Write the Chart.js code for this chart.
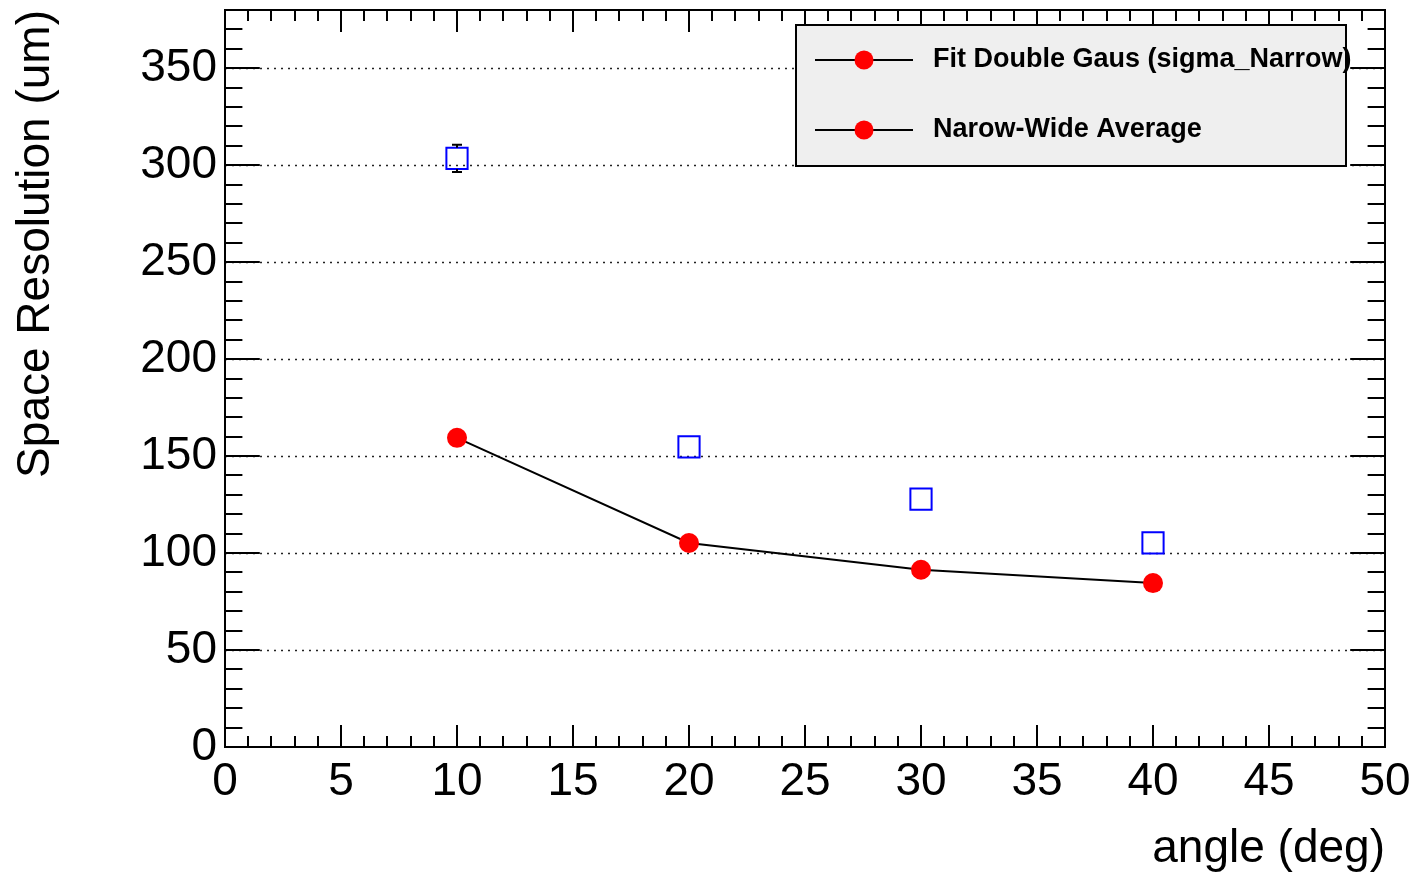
<!DOCTYPE html>
<html>
<head>
<meta charset="utf-8">
<title>Space Resolution vs angle</title>
<script src="https://cdn.jsdelivr.net/npm/chart.js@4/dist/chart.umd.min.js"></script>
<style>
  html, body { margin: 0; padding: 0; background: #ffffff; }
  #wrap { width: 1414px; height: 875px; }
</style>
</head>
<body>
<div id="wrap"><canvas id="c" width="1414" height="875"></canvas></div>
<script>
// Incidence angles (deg)
const angles = [10, 20, 30, 40];
// Resolution from double-Gaussian fit, narrow sigma (um)
const sigmaNarrow = [159.4, 105.2, 91.4, 84.5];
// Narrow/wide weighted average (um) and its uncertainty
const narrowWideAvg = [303.5, 154.8, 127.8, 105.3];
const narrowWideErr = [7, 1.5, 1.5, 1.5];
// Legend entries
const legendLabels = ['Fit Double Gaus (sigma_Narrow)', 'Narow-Wide Average'];
// Axis ranges and tick steps
const xRange = [0, 50];
const yRange = [0, 380];
const xMajorStep = 5, xMinorStep = 1;
const yMajorStep = 50, yMinorStep = 10;

const FONT = "'Liberation Sans', Arial, Helvetica, sans-serif";
const SQUARE_RADIUS = 15;

// Frame, inward tick marks on all four sides and dotted horizontal grid
const frameAndTicks = {
  id: 'frameAndTicks',
  beforeDatasetsDraw(chart) {
    const { ctx, chartArea: a, scales: { y } } = chart;
    ctx.save();
    ctx.strokeStyle = '#222';
    ctx.lineWidth = 1.6;
    ctx.setLineDash([2, 5]);
    for (let v = yMajorStep; v <= yRange[1]; v += yMajorStep) {
      const py = Math.round(y.getPixelForValue(v)) + 0.5;
      ctx.beginPath();
      ctx.moveTo(a.left, py);
      ctx.lineTo(a.right, py);
      ctx.stroke();
    }
    ctx.restore();
  },
  afterDatasetsDraw(chart) {
    const { ctx, chartArea: a, scales: { x, y } } = chart;
    const h = a.bottom - a.top, w = a.right - a.left;
    const xMaj = 0.03 * h, yMaj = 0.03 * w;
    ctx.save();
    ctx.strokeStyle = '#000';
    ctx.lineWidth = 2;
    ctx.beginPath();
    for (let v = xRange[0]; v <= xRange[1] + 1e-9; v += xMinorStep) {
      const px = Math.round(x.getPixelForValue(v));
      const len = (Math.round(v) % xMajorStep === 0) ? xMaj : xMaj / 2;
      ctx.moveTo(px, a.bottom); ctx.lineTo(px, a.bottom - len);
      ctx.moveTo(px, a.top); ctx.lineTo(px, a.top + len);
    }
    for (let v = yRange[0]; v <= yRange[1] + 1e-9; v += yMinorStep) {
      const py = Math.round(y.getPixelForValue(v));
      const len = (Math.round(v) % yMajorStep === 0) ? yMaj : yMaj / 2;
      ctx.moveTo(a.left, py); ctx.lineTo(a.left + len, py);
      ctx.moveTo(a.right, py); ctx.lineTo(a.right - len, py);
    }
    ctx.stroke();
    ctx.strokeRect(a.left, a.top, w, h);
    ctx.restore();
  }
};

// Vertical error bars with end caps, drawn only where they reach outside the marker
const errorBars = {
  id: 'errorBars',
  afterDatasetsDraw(chart) {
    const { ctx, scales: { x, y } } = chart;
    const half = SQUARE_RADIUS * Math.SQRT1_2;
    ctx.save();
    ctx.strokeStyle = '#000';
    ctx.lineWidth = 2;
    angles.forEach((ang, i) => {
      const px = x.getPixelForValue(ang);
      const pc = y.getPixelForValue(narrowWideAvg[i]);
      const top = y.getPixelForValue(narrowWideAvg[i] + narrowWideErr[i]);
      const bot = y.getPixelForValue(narrowWideAvg[i] - narrowWideErr[i]);
      if (pc - top < half) return;
      ctx.beginPath();
      ctx.moveTo(px, pc - half); ctx.lineTo(px, top);
      ctx.moveTo(px, pc + half); ctx.lineTo(px, bot);
      ctx.moveTo(px - 5, top); ctx.lineTo(px + 5, top);
      ctx.moveTo(px - 5, bot); ctx.lineTo(px + 5, bot);
      ctx.stroke();
    });
    ctx.restore();
  }
};

// Boxed legend: line with round marker followed by bold label
const boxLegend = {
  id: 'boxLegend',
  afterDraw(chart) {
    const { ctx, chartArea: a } = chart;
    const bx = a.left + 571, by = a.top + 15, bw = 550, bh = 141;
    ctx.save();
    ctx.fillStyle = '#efefef';
    ctx.fillRect(bx, by, bw, bh);
    ctx.strokeStyle = '#000';
    ctx.lineWidth = 2;
    ctx.strokeRect(bx, by, bw, bh);
    legendLabels.forEach((txt, i) => {
      const cy = by + 35 + i * 70;
      ctx.strokeStyle = '#000';
      ctx.lineWidth = 2;
      ctx.beginPath();
      ctx.moveTo(bx + 19, cy); ctx.lineTo(bx + 117, cy);
      ctx.stroke();
      ctx.fillStyle = '#ff0000';
      ctx.beginPath();
      ctx.arc(bx + 68, cy, 9.5, 0, Math.PI * 2);
      ctx.fill();
      ctx.fillStyle = '#000';
      ctx.font = 'bold 27px ' + FONT;
      ctx.textBaseline = 'middle';
      ctx.textAlign = 'left';
      ctx.fillText(txt, bx + 137, cy);
    });
    ctx.restore();
  }
};

new Chart(document.getElementById('c'), {
  type: 'scatter',
  data: {
    datasets: [
      {
        label: legendLabels[0],
        data: angles.map((a, i) => ({ x: a, y: sigmaNarrow[i] })),
        showLine: true,
        borderColor: '#000',
        borderWidth: 2,
        pointStyle: 'circle',
        pointRadius: 10,
        pointBackgroundColor: '#ff0000',
        pointBorderColor: '#ff0000',
        pointBorderWidth: 0,
        order: 1
      },
      {
        label: legendLabels[1],
        data: angles.map((a, i) => ({ x: a, y: narrowWideAvg[i] })),
        showLine: false,
        pointStyle: 'rect',
        pointRadius: SQUARE_RADIUS,
        pointBackgroundColor: 'rgba(0,0,0,0)',
        pointBorderColor: '#0000ff',
        pointBorderWidth: 2,
        order: 2
      }
    ]
  },
  options: {
    responsive: false,
    animation: false,
    devicePixelRatio: 1,
    layout: { autoPadding: false, padding: { top: 10, right: 29, left: 0, bottom: 0 } },
    plugins: {
      legend: { display: false },
      tooltip: { enabled: false }
    },
    scales: {
      x: {
        type: 'linear',
        min: xRange[0], max: xRange[1],
        grid: { display: false, drawTicks: false },
        border: { display: false },
        ticks: {
          stepSize: xMajorStep,
          includeBounds: false,
          color: '#000',
          padding: 8,
          maxRotation: 0,
          autoSkip: false,
          font: { family: FONT, size: 46 }
        },
        title: {
          display: true,
          text: 'angle (deg)',
          align: 'end',
          color: '#000',
          padding: { top: 0, bottom: 3 },
          font: { family: FONT, size: 46, lineHeight: 1 }
        },
        afterFit(scale) {
          scale.height = 128;
          scale.paddingLeft = 0; scale.paddingRight = 0;
        }
      },
      y: {
        type: 'linear',
        min: yRange[0], max: yRange[1],
        grid: { display: false, drawTicks: false },
        border: { display: false },
        ticks: {
          stepSize: yMajorStep,
          includeBounds: false,
          color: '#000',
          padding: 8,
          autoSkip: false,
          font: { family: FONT, size: 46 }
        },
        title: {
          display: true,
          text: 'Space Resolution (um)',
          align: 'end',
          color: '#000',
          padding: { top: 9, bottom: 0 },
          font: { family: FONT, size: 46 }
        },
        afterFit(scale) {
          scale.width = 225;
          scale.paddingTop = 0; scale.paddingBottom = 0;
        }
      }
    }
  },
  plugins: [frameAndTicks, errorBars, boxLegend]
});
</script>
</body>
</html>
